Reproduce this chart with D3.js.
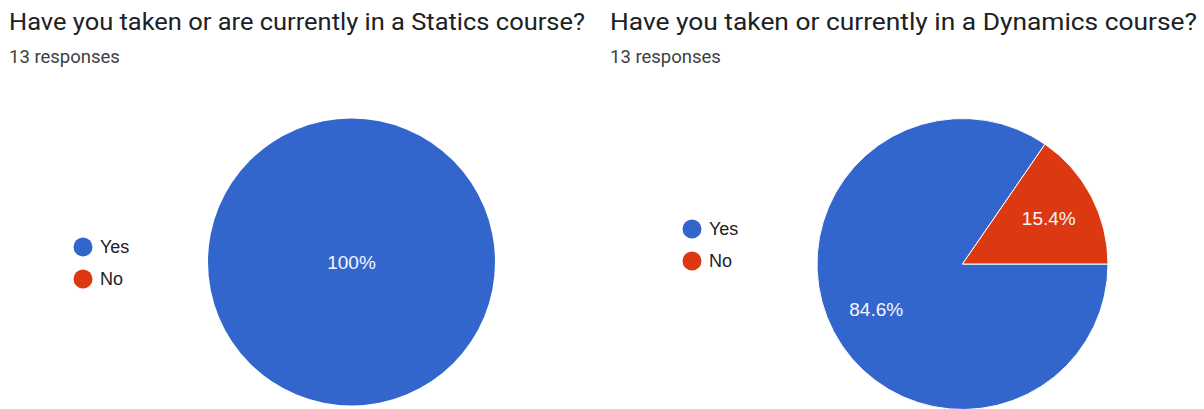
<!DOCTYPE html>
<html>
<head>
<meta charset="utf-8">
<script src="https://cdn.jsdelivr.net/npm/d3@7"></script>
<style>
  html, body { margin: 0; padding: 0; background: #fff; }
  svg { display: block; }
</style>
</head>
<body>
<svg id="chart" width="1204" height="409"></svg>
<script>
// Survey questions, response counts and answer shares
const titles = [
  "Have you taken or are currently in a Statics course?",
  "Have you taken or currently in a Dynamics course?"
];
const responseCounts = [13, 13];
const answers = ["Yes", "No"];
const staticsShares = [100, 0];
const dynamicsShares = [84.6, 15.4];

const colors = d3.scaleOrdinal().domain(answers).range(["#3366cc", "#dc3912"]);

const svg = d3.select("#chart");

// Layout of each panel
const panels = [
  { x: 9, titleWidth: 576, title: titles[0], count: responseCounts[0], shares: staticsShares,
    cx: 351.5, cy: 262, r: 143.5, legendX: 83, legendY: 247, startAngle: 0 },
  { x: 610, titleWidth: 587, title: titles[1], count: responseCounts[1], shares: dynamicsShares,
    cx: 962.5, cy: 264, r: 145.5, legendX: 692, legendY: 229, startAngle: Math.PI / 2 }
];

panels.forEach(p => {
  const g = svg.append("g");

  g.append("text")
    .attr("x", p.x).attr("y", 30)
    .attr("font-family", "Roboto, sans-serif")
    .attr("font-size", 23)
    .attr("textLength", p.titleWidth)
    .attr("lengthAdjust", "spacingAndGlyphs")
    .attr("fill", "#202124")
    .text(p.title);

  g.append("text")
    .attr("x", p.x).attr("y", 62.5)
    .attr("font-family", "Roboto, sans-serif")
    .attr("font-size", 18.5)
    .attr("fill", "#3c4043")
    .text(`${p.count} responses`);

  const data = answers.map((a, i) => ({ answer: a, value: p.shares[i] }));

  const pie = d3.pie()
    .sort(null)
    .value(d => d.value)
    .startAngle(p.startAngle)
    .endAngle(p.startAngle + 2 * Math.PI);

  const arc = d3.arc().innerRadius(0).outerRadius(p.r);
  const labelArc = d3.arc().innerRadius(p.r * 0.67).outerRadius(p.r * 0.67);

  const arcs = pie(data).filter(d => d.data.value > 0);

  const pieG = g.append("g").attr("transform", `translate(${p.cx},${p.cy})`);

  pieG.selectAll("path")
    .data(arcs)
    .join("path")
    .attr("d", arc)
    .attr("fill", d => colors(d.data.answer))
    .attr("stroke", arcs.length > 1 ? "#fff" : "none")
    .attr("stroke-width", 1);

  pieG.selectAll("text")
    .data(arcs)
    .join("text")
    .attr("transform", d => arcs.length > 1 ? `translate(${labelArc.centroid(d)})` : null)
    .attr("text-anchor", "middle")
    .attr("dy", "0.36em")
    .attr("font-family", "Liberation Sans, Arial, sans-serif")
    .attr("font-size", 19)
    .attr("fill", "#f4f6fb")
    .text(d => `${d.data.value}%`);

  const legend = g.append("g");
  answers.forEach((a, i) => {
    const y = p.legendY + i * 32;
    legend.append("circle")
      .attr("cx", p.legendX).attr("cy", y).attr("r", 9.5)
      .attr("fill", colors(a));
    legend.append("text")
      .attr("x", p.legendX + 17).attr("y", y)
      .attr("dy", "0.36em")
      .attr("font-family", "Liberation Sans, Arial, sans-serif")
      .attr("font-size", 18)
      .attr("fill", "#222")
      .text(a);
  });
});
</script>
</body>
</html>
